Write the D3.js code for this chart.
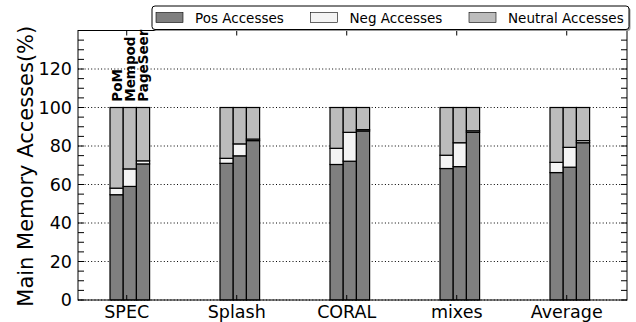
<!DOCTYPE html>
<html>
<head>
<meta charset="utf-8">
<script src="https://cdn.jsdelivr.net/npm/d3@7"></script>
<style>
  html, body { margin: 0; padding: 0; background: #fff; }
  svg { display: block; font-family: "DejaVu Sans", sans-serif; }
</style>
</head>
<body>
<svg id="chart" width="636" height="322"></svg>
<script>
// Workload groups and the three schemes compared in each group
const categories = ["SPEC", "Splash", "CORAL", "mixes", "Average"];
const schemes = ["PoM", "Mempod", "PageSeer"];

// Share of main memory accesses (%) per scheme, one value per workload group
const posPoM = [54.7, 71.0, 70.4, 68.3, 66.2];
const posMempod = [59.0, 74.9, 72.1, 69.3, 69.0];
const posPageSeer = [70.7, 82.8, 87.8, 87.1, 81.7];

const negPoM = [3.4, 2.6, 8.4, 6.9, 5.3];
const negMempod = [9.1, 6.2, 15.0, 12.4, 10.3];
const negPageSeer = [1.6, 0.8, 0.7, 0.8, 1.1];

const neutralPoM = [41.9, 26.4, 21.2, 24.8, 28.5];
const neutralMempod = [31.9, 18.9, 12.9, 18.3, 20.7];
const neutralPageSeer = [27.7, 16.4, 11.5, 12.1, 17.2];

const yTicks = [0, 20, 40, 60, 80, 100, 120];
const seriesNames = ["Pos Accesses", "Neg Accesses", "Neutral Accesses"];
const seriesColors = ["#7f7f7f", "#f4f4f4", "#bcbcbc"];

const pos = [posPoM, posMempod, posPageSeer];
const neg = [negPoM, negMempod, negPageSeer];
const neutral = [neutralPoM, neutralMempod, neutralPageSeer];

const svg = d3.select("#chart");
const plotL = 78, plotR = 627, plotT = 30.5, plotB = 300;

const x = d3.scaleLinear().domain([-0.443, 4.548]).range([plotL, plotR]);
const y = d3.scaleLinear().domain([0, 140]).range([plotB, plotT]);
const barW = 0.12;

// Dotted horizontal grid
svg.append("g").selectAll("line").data(yTicks).join("line")
  .attr("x1", plotL).attr("x2", plotR)
  .attr("y1", d => y(d)).attr("y2", d => y(d))
  .attr("stroke", "#000").attr("stroke-width", 1)
  .attr("stroke-dasharray", "1,2.3");

// Stacked bars: positive, negative, neutral
const stacks = [];
categories.forEach((c, i) => {
  schemes.forEach((s, k) => {
    const vals = [pos[k][i], neg[k][i], neutral[k][i]];
    let base = 0;
    vals.forEach((v, j) => {
      stacks.push({ i, k, j, y0: base, y1: base + v });
      base += v;
    });
  });
});

svg.append("g").selectAll("rect").data(stacks).join("rect")
  .attr("x", d => x(d.i - 0.152 + d.k * barW))
  .attr("width", x(barW) - x(0))
  .attr("y", d => y(d.y1))
  .attr("height", d => y(d.y0) - y(d.y1))
  .attr("fill", d => seriesColors[d.j])
  .attr("stroke", "#000").attr("stroke-width", 1.2);

// Scheme names above the first group
svg.append("g").selectAll("text").data(schemes).join("text")
  .attr("transform", (d, k) => `translate(${x(-0.152 + (k + 0.5) * barW) + 5},${y(103)}) rotate(-90)`)
  .attr("font-size", 13.5).attr("font-weight", "bold")
  .attr("fill", "#000")
  .text(d => d);

// Frame
svg.append("rect")
  .attr("x", plotL).attr("y", plotT)
  .attr("width", plotR - plotL).attr("height", plotB - plotT)
  .attr("fill", "none").attr("stroke", "#000").attr("stroke-width", 1);

// Inward ticks on left and right, major every 20, minor every 5
const minor = d3.range(0, 141, 5);
const tickG = svg.append("g").attr("stroke", "#000").attr("stroke-width", 1);
tickG.selectAll(".tl").data(minor).join("line")
  .attr("x1", plotL).attr("x2", plotL + 6)
  .attr("y1", d => y(d)).attr("y2", d => y(d));
tickG.selectAll(".tr").data(minor).join("line")
  .attr("x1", plotR).attr("x2", plotR - 6)
  .attr("y1", d => y(d)).attr("y2", d => y(d));
// Category ticks on top and bottom
tickG.selectAll(".tb").data(categories).join("line")
  .attr("x1", (d, i) => x(i)).attr("x2", (d, i) => x(i))
  .attr("y1", plotB).attr("y2", plotB - 5);
tickG.selectAll(".tt").data(categories).join("line")
  .attr("x1", (d, i) => x(i)).attr("x2", (d, i) => x(i))
  .attr("y1", plotT).attr("y2", plotT + 5);

// Y tick labels
svg.append("g").selectAll("text").data(yTicks).join("text")
  .attr("x", plotL - 6).attr("y", d => y(d))
  .attr("dy", "0.36em").attr("text-anchor", "end")
  .attr("font-size", 17.5).attr("fill", "#000")
  .text(d => d);

// X tick labels
svg.append("g").selectAll("text").data(categories).join("text")
  .attr("x", (d, i) => x(i)).attr("y", 317.5)
  .attr("text-anchor", "middle")
  .attr("font-size", 17.5).attr("fill", "#000")
  .text(d => d);

// Y axis title
svg.append("text")
  .attr("transform", `translate(33,${(plotT + plotB) / 2 + 1}) rotate(-90)`)
  .attr("text-anchor", "middle")
  .attr("font-size", 21).attr("fill", "#000")
  .text("Main Memory Accesses(%)");

// Legend
const lg = svg.append("g");
lg.append("rect")
  .attr("x", 153.5).attr("y", 7.5).attr("width", 477).attr("height", 23.5)
  .attr("rx", 3).attr("fill", "#999");
lg.append("rect")
  .attr("x", 152).attr("y", 6).attr("width", 477).attr("height", 23.5)
  .attr("rx", 3).attr("fill", "#fff").attr("stroke", "#000").attr("stroke-width", 1);
const legendX = [156, 310.5, 469];
seriesNames.forEach((n, j) => {
  lg.append("rect")
    .attr("x", legendX[j]).attr("y", 12.5).attr("width", 27).attr("height", 10)
    .attr("fill", seriesColors[j]).attr("stroke", "#000").attr("stroke-width", 0.6);
  lg.append("text")
    .attr("x", legendX[j] + 39).attr("y", 22.5)
    .attr("font-size", 13.5).attr("fill", "#000")
    .text(n);
});
</script>
</body>
</html>
